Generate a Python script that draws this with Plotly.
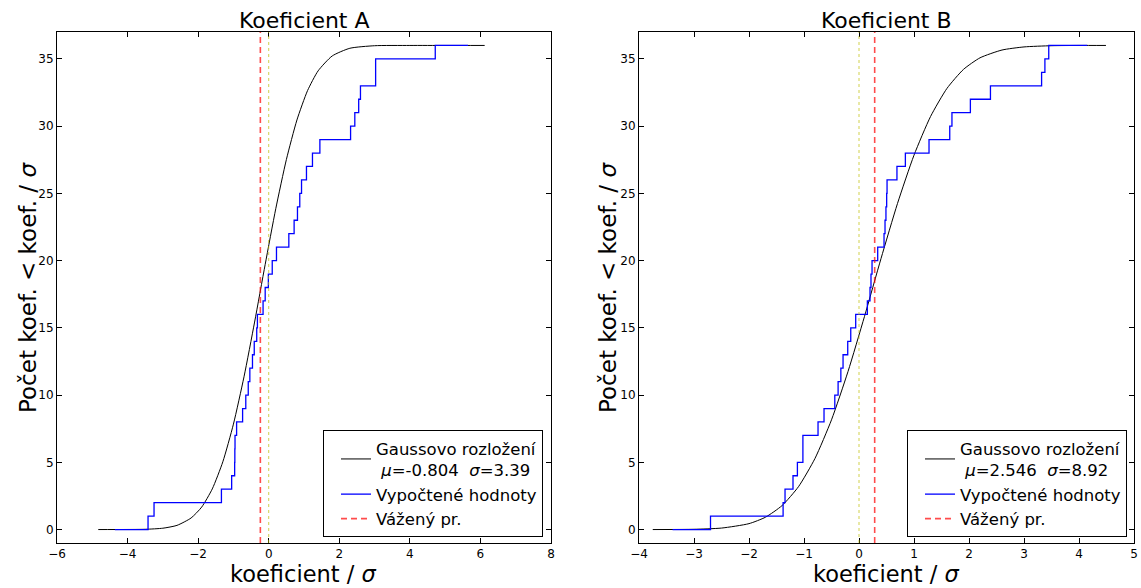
import plotly.graph_objects as go

# ---------------- data ----------------
# Koeficient A
gauss_a_x = [-4.83, -3.5, -3.0, -2.6, -2.2, -1.9, -1.6, -1.3, -1.0, -0.7, -0.4, -0.1,
             0.2, 0.5, 0.8, 1.1, 1.4, 1.8, 2.3, 3.0, 4.0, 5.0, 6.12]
gauss_a_y = [0.0, 0.02, 0.10, 0.31, 0.86, 1.67, 3.02, 5.04, 7.84, 11.36, 15.43, 19.72,
             23.86, 27.51, 30.46, 32.64, 34.11, 35.22, 35.79, 35.98, 36.0, 36.0, 36.0]
steps_a_x = [-4.36, -3.42, -3.25, -1.34, -1.05, -0.965, -0.96, -0.955, -0.91, -0.74,
             -0.65, -0.58, -0.535, -0.46, -0.41, -0.34, -0.32, -0.16, -0.10, -0.01,
             0.10, 0.22, 0.57, 0.72, 0.815, 0.88, 0.93, 1.07, 1.24, 1.45,
             2.32, 2.44, 2.55, 2.60, 3.03, 3.03, 4.72, 5.65]
steps_a_y = [0, 1, 2, 3, 4, 5, 6, 7, 8, 9, 10, 11, 12, 13, 14, 15, 16, 17, 18, 19,
             20, 21, 22, 23, 24, 25, 26, 27, 28, 29, 30, 31, 32, 33, 34, 35, 36, 36]
mean_a = -0.237

# Koeficient B
gauss_b_x = [-3.75, -3.0, -2.5, -2.0, -1.7, -1.4, -1.1, -0.8, -0.5, -0.2, 0.1, 0.4,
             0.7, 1.0, 1.3, 1.6, 1.9, 2.2, 2.6, 3.0, 3.5, 4.0, 4.49]
gauss_b_y = [0.0, 0.02, 0.11, 0.44, 0.92, 1.78, 3.19, 5.29, 8.16, 11.75, 15.85, 20.15,
             24.25, 27.84, 30.71, 32.81, 34.22, 35.08, 35.66, 35.89, 35.98, 36.0, 36.0]
steps_b_x = [-3.39, -2.70, -1.38, -1.345, -1.20, -1.12, -1.02, -1.02, -0.745, -0.636,
             -0.44, -0.38, -0.33, -0.29, -0.205, -0.15, -0.06, 0.152, 0.20, 0.218,
             0.237, 0.34, 0.455, 0.473, 0.49, 0.503, 0.51, 0.69, 0.843, 1.273,
             1.65, 1.69, 2.025, 2.39, 3.32, 3.38, 3.45, 4.15]
steps_b_y = [0, 1, 2, 3, 4, 5, 6, 7, 8, 9, 10, 11, 12, 13, 14, 15, 16, 17, 18, 19,
             20, 21, 22, 23, 24, 25, 26, 27, 28, 29, 30, 31, 32, 33, 34, 35, 36, 36]
mean_b = 0.285

titles = ["Koeficient A", "Koeficient B"]
gauss_labels = ["Gaussovo rozložení<br>\u00a0<i>μ</i>=-0.804\u00a0\u00a0<i>σ</i>=3.39",
                "Gaussovo rozložení<br>\u00a0<i>μ</i>=2.546\u00a0\u00a0<i>σ</i>=8.92"]
steps_label = "Vypočtené hodnoty"
mean_label = "Vážený pr."
x_label = "koeficient / <i>σ</i>"
y_label = "Počet koef. < koef. / <i>σ</i>"

# ---------------- figure ----------------
W, H = 1141, 588
FONT = "DejaVu Sans"


def px(x):
    return x / W


def py(y):
    return 1 - y / H


fig = go.Figure()

panels = [
    dict(gx=gauss_a_x, gy=gauss_a_y, sx=steps_a_x, sy=steps_a_y, mean=mean_a,
         xa="x", ya="y", leg="legend", glabel=gauss_labels[0]),
    dict(gx=gauss_b_x, gy=gauss_b_y, sx=steps_b_x, sy=steps_b_y, mean=mean_b,
         xa="x2", ya="y2", leg="legend2", glabel=gauss_labels[1]),
]

for p in panels:
    fig.add_trace(go.Scatter(x=p["gx"], y=p["gy"], mode="lines",
                             line=dict(color="black", width=1, shape="spline", smoothing=0.6),
                             name=p["glabel"], xaxis=p["xa"], yaxis=p["ya"], legend=p["leg"]))
    fig.add_trace(go.Scatter(x=p["sx"], y=p["sy"], mode="lines",
                             line=dict(color="#0000ff", width=1.3, shape="hv"),
                             name=steps_label, xaxis=p["xa"], yaxis=p["ya"], legend=p["leg"]))
    # zero reference (dotted yellow)
    fig.add_shape(type="line", xref=p["xa"], yref=p["ya"] + " domain",
                  x0=0, x1=0, y0=0, y1=1,
                  line=dict(color="rgba(190,190,0,0.7)", width=1, dash="dot"))
    # weighted mean (dashed red)
    fig.add_shape(type="line", xref=p["xa"], yref=p["ya"] + " domain",
                  x0=p["mean"], x1=p["mean"], y0=0, y1=1,
                  line=dict(color="rgba(255,0,0,0.7)", width=1.6, dash="6px,4px"),
                  showlegend=True, name=mean_label, legend=p["leg"])

axis_common = dict(ticks="inside", ticklen=5, tickwidth=1, tickcolor="black",
                   showline=True, linecolor="black", linewidth=1, mirror="allticks",
                   showgrid=False, zeroline=False, automargin=False,
                   tickfont=dict(family=FONT, size=12, color="black"))

legend_common = dict(y=py(537), xanchor="right", yanchor="bottom",
                     bordercolor="black", borderwidth=1, bgcolor="white",
                     font=dict(family=FONT, size=16.5, color="black"), itemwidth=30,
                     tracegroupgap=2, indentation=12)

ydom = [py(543), py(32)]
fig.update_layout(
    width=W, height=H,
    margin=dict(l=0, r=0, t=0, b=0),
    paper_bgcolor="white", plot_bgcolor="white",
    font=dict(family=FONT, color="black"),
    xaxis=dict(domain=[px(57), px(551)], range=[-6, 8], tick0=0, dtick=2, anchor="y", **axis_common),
    yaxis=dict(domain=ydom, range=[-1, 37], tick0=0, dtick=5, anchor="x", **axis_common),
    xaxis2=dict(domain=[px(639), px(1134)], range=[-4, 5], tick0=0, dtick=1, anchor="y2", **axis_common),
    yaxis2=dict(domain=ydom, range=[-1, 37], tick0=0, dtick=5, anchor="x2", **axis_common),
    legend=dict(x=px(543), **legend_common),
    legend2=dict(x=px(1127), **legend_common),
    showlegend=True,
)

annots = []
for cx, t in zip([304, 886], titles):
    annots.append(dict(text=t, x=px(cx), y=py(20), xref="paper", yref="paper",
                       showarrow=False, xanchor="center", yanchor="middle",
                       font=dict(family=FONT, size=22, color="black")))
for cx in [303, 886]:
    annots.append(dict(text=x_label, x=px(cx), y=py(574), xref="paper", yref="paper",
                       showarrow=False, xanchor="center", yanchor="middle",
                       font=dict(family=FONT, size=22.5, color="black")))
for cx in [28, 608]:
    annots.append(dict(text=y_label, x=px(cx), y=py(288), xref="paper", yref="paper",
                       showarrow=False, xanchor="center", yanchor="middle", textangle=-90,
                       font=dict(family=FONT, size=23, color="black")))
fig.update_layout(annotations=annots)

fig.write_html("out.html")
